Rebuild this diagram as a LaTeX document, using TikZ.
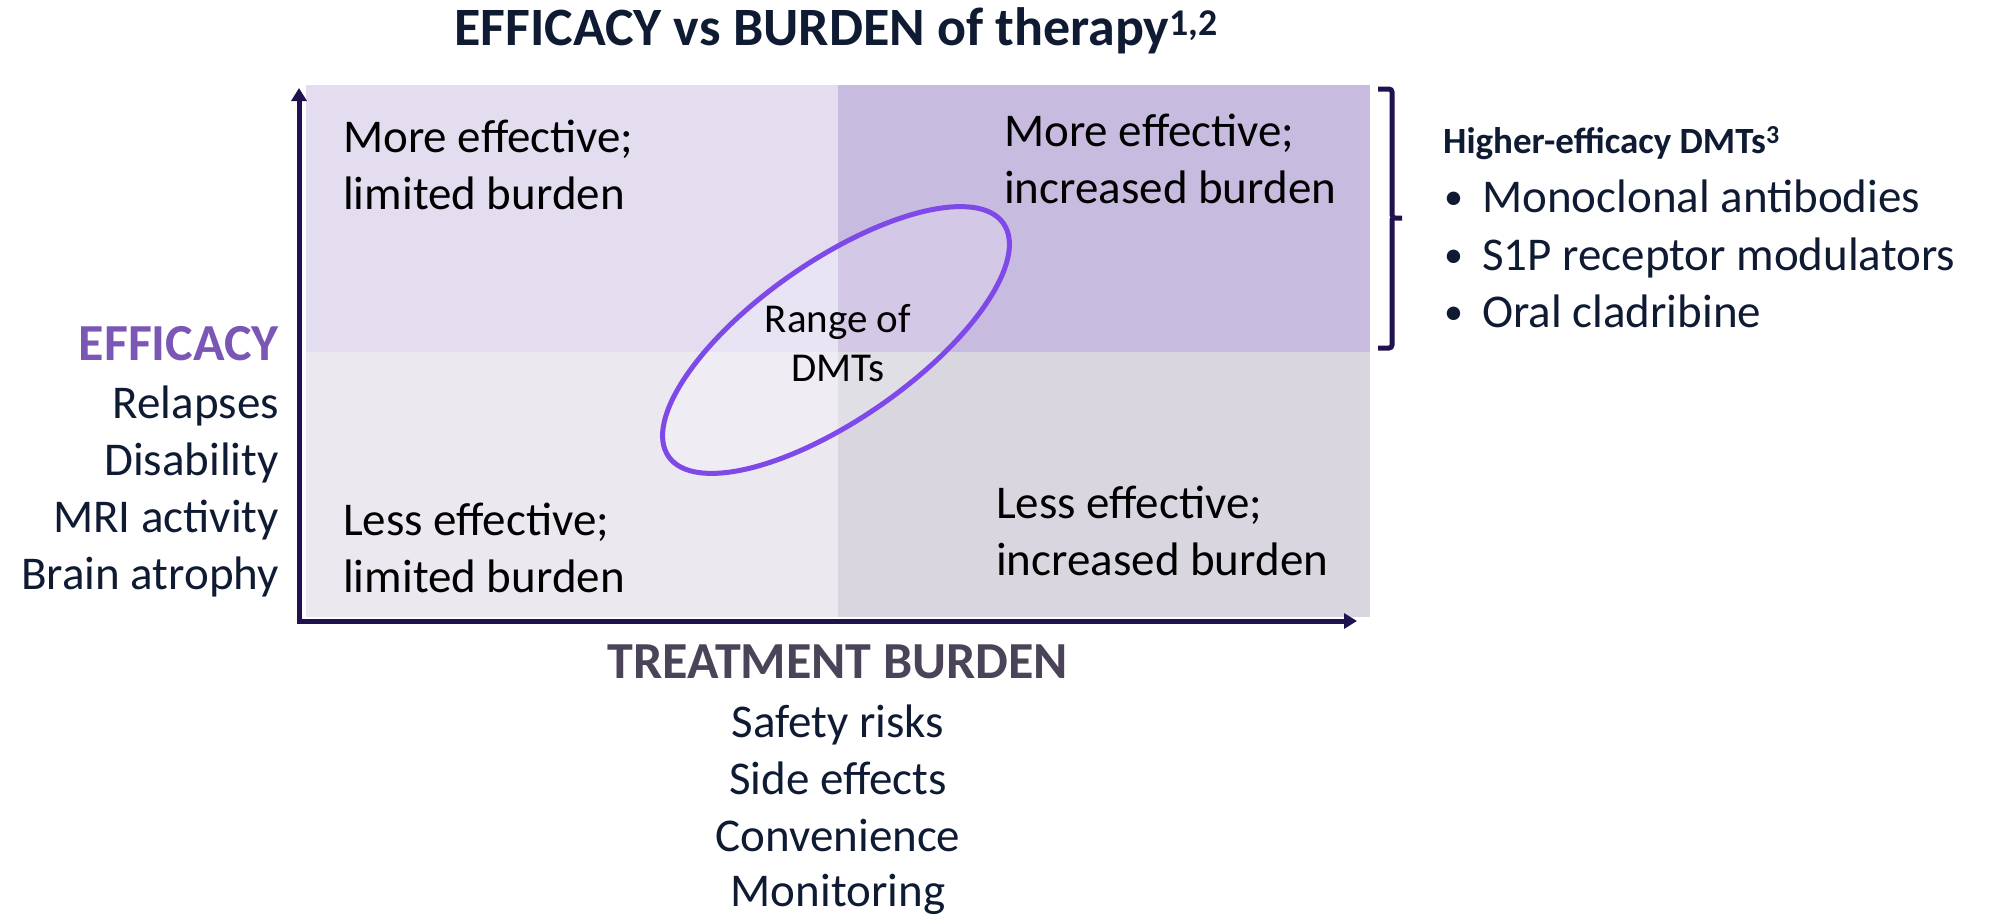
\documentclass[tikz,border=0pt]{standalone}
\usepackage{fontspec}
\setmainfont{Carlito}
\usetikzlibrary{arrows.meta}
\definecolor{qTL}{HTML}{E4DDF0}
\definecolor{qTR}{HTML}{C7BBDF}
\definecolor{qBL}{HTML}{EBE8F0}
\definecolor{qBR}{HTML}{D9D6DF}
\definecolor{axisc}{HTML}{22114F}
\definecolor{navy}{HTML}{0F1A33}
\definecolor{effpurple}{HTML}{7B57B5}
\definecolor{burdgray}{HTML}{4B4358}
\definecolor{ellc}{HTML}{7F48E8}
\begin{document}
\begin{tikzpicture}[x=1pt,y=-1pt,
  body/.style={font=\fontsize{47}{57}\selectfont, text=black, inner sep=0pt, align=left},
  side/.style={font=\fontsize{47}{57}\selectfont, text=navy, inner sep=0pt},
  dot/.style={font=\fontsize{38}{57}\selectfont, text=navy, inner sep=0pt},
  heads/.style={font=\bfseries\fontsize{52}{60}\selectfont, inner sep=0pt},
  axisline/.style={draw=axisc, line width=5pt, -{Triangle[width=15pt,length=13pt]}},
  bracketline/.style={draw=axisc, line width=5pt, rounded corners=3pt}]
\useasboundingbox (0,0) rectangle (1990,918);
% quadrants
\fill[qTL] (306,85) rectangle (838,352);
\fill[qTR] (838,85) rectangle (1370,352);
\fill[qBL] (306,352) rectangle (838,617);
\fill[qBR] (838,352) rectangle (1370,617);
% ellipse
\filldraw[draw=ellc, line width=5pt, fill=white, fill opacity=0.22, draw opacity=1,
  rotate around={34.85:(836,340)}] (836,340) ellipse [x radius=204, y radius=79];
% axes
\coordinate (org) at (299,621);
\coordinate (ytop) at (299,88);
\coordinate (xend) at (1357,621);
\draw[axisline] (299,623.5) -- (ytop);
\draw[axisline] (296.5,621) -- (xend);
% bracket
\coordinate (bt) at (1378,89);
\coordinate (bm) at (1402,218);
\coordinate (bb) at (1378,348);
\draw[bracketline] (bt) -| (1392,218) -- (bm);
\draw[bracketline] (bb) -| (1392,218);
% title
\node[font=\bfseries\fontsize{54}{60}\selectfont, inner sep=0pt, text=navy, anchor=base] (title) at (836,45) {EFFICACY vs BURDEN of therapy\textsuperscript{1,2}};
% quadrant texts
\node[body, anchor=base west] (tl1) at (343,152) {More effective;};
\node[body, anchor=base west] (tl2) at (343,209) {limited burden};
\node[body, anchor=base west] (tr1) at (1004,146) {More effective;};
\node[body, anchor=base west] (tr2) at (1004,203) {increased burden};
\node[body, anchor=base west] (bl1) at (343,535) {Less effective;};
\node[body, anchor=base west] (bl2) at (343,592) {limited burden};
\node[body, anchor=base west] (br1) at (996,518) {Less effective;};
\node[body, anchor=base west] (br2) at (996,575) {increased burden};
\node[font=\fontsize{41}{49}\selectfont, inner sep=0pt, align=center, anchor=base] (rng) at (838,381) {Range of\\DMTs};
% efficacy labels
\node[heads, text=effpurple, anchor=base east] (eff) at (279,360) {EFFICACY};
\node[side, anchor=base east] (e1) at (279,418) {Relapses};
\node[side, anchor=base east] (e2) at (279,475) {Disability};
\node[side, anchor=base east] (e3) at (279,532) {MRI activity};
\node[side, anchor=base east] (e4) at (279,589) {Brain atrophy};
% burden labels
\node[heads, text=burdgray, anchor=base] (tb) at (838,678) {TREATMENT BURDEN};
\node[side, anchor=base] (b1) at (838,737) {Safety risks};
\node[side, anchor=base] (b2) at (838,794) {Side effects};
\node[side, anchor=base] (b3) at (838,851) {Convenience};
\node[side, anchor=base] (b4) at (838,906) {Monitoring};
% higher efficacy list
\node[font=\bfseries\fontsize{37}{50}\selectfont, text=navy, inner sep=0pt, anchor=base west] (hd) at (1443,153) {Higher-efficacy DMTs\textsuperscript{3}};
\node[side, anchor=base west] (l1) at (1482,212) {Monoclonal antibodies};
\node[side, anchor=base west] (l2) at (1482,270) {S1P receptor modulators};
\node[side, anchor=base west] (l3) at (1482,327) {Oral cladribine};
\node[dot, anchor=base west] (d1) at (1444,209) {•};
\node[dot, anchor=base west] (d2) at (1444,267) {•};
\node[dot, anchor=base west] (d3) at (1444,324) {•};
\end{tikzpicture}
\end{document}
